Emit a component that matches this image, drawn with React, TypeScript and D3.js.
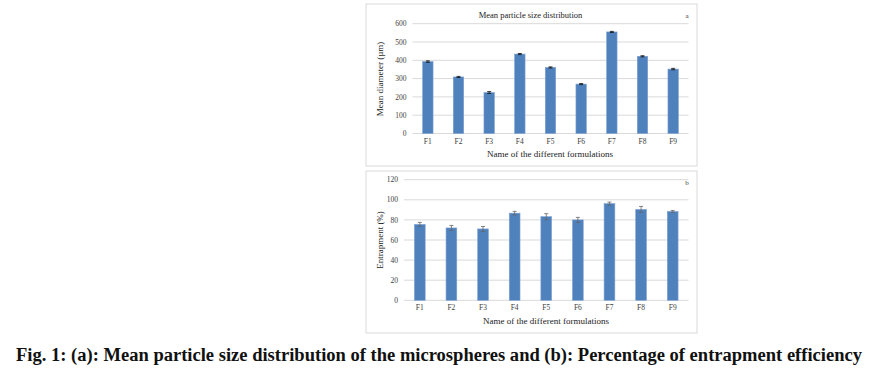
import React from "react";
import * as d3 from "d3";

const categories = ["F1", "F2", "F3", "F4", "F5", "F6", "F7", "F8", "F9"];
const sizeValues = [393, 309, 224, 434, 361, 270, 555, 422, 352];
const sizeErrors = [4, 3, 5, 3, 3, 3, 3, 3, 4];
const sizeTicks = [0, 100, 200, 300, 400, 500, 600];
const entrapValues = [75.5, 72, 71, 86.7, 83.2, 80, 96.2, 90.4, 88.4];
const entrapErrors = [2, 2.5, 2.5, 1.8, 3, 2.5, 1.5, 3, 1];
const entrapTicks = [0, 20, 40, 60, 80, 100, 120];

const FONT = "'Liberation Serif', 'Times New Roman', serif";
const BAR = "#4f81bd";
const GRID = "#d9d9d9";
const TXT = "#404040";

type PanelProps = {
  box: [number, number, number, number];
  plotX: [number, number];
  plotY: [number, number];
  values: number[];
  errors: number[];
  ticks: number[];
  maxY: number;
  title?: string;
  tag: string;
  yLabel: string;
  yLabelX: number;
  yLabelY: number;
  xLabelY: number;
  xLabelX: number;
  errColor: string;
};

function Panel(p: PanelProps) {
  const x = d3.scaleBand<string>().domain(categories).range(p.plotX).paddingInner(0.66).paddingOuter(0.33);
  const y = d3.scaleLinear().domain([0, p.maxY]).range([p.plotY[1], p.plotY[0]]);
  const [bx, by, bw, bh] = p.box;
  return (
    <g>
      <rect x={bx} y={by} width={bw} height={bh} fill="#fff" stroke="#d9d9d9" strokeWidth={1} />
      {p.ticks.map((t) => (
        <g key={t}>
          <line x1={p.plotX[0]} x2={p.plotX[1]} y1={y(t)} y2={y(t)} stroke={GRID} strokeWidth={1} />
          <text x={p.plotX[0] - 6} y={y(t)} dy="0.35em" textAnchor="end" fontSize={7.5} fill={TXT} fontFamily={FONT}>
            {t}
          </text>
        </g>
      ))}
      {categories.map((c, i) => {
        const bxp = x(c)!;
        const bwid = x.bandwidth();
        const cx = bxp + bwid / 2;
        const v = p.values[i];
        const e = p.errors[i];
        return (
          <g key={c}>
            <rect x={bxp} y={y(v)} width={bwid} height={y(0) - y(v)} fill={BAR} stroke="#7ea1d3" strokeWidth={0.6} />
            <line x1={cx} x2={cx} y1={y(v + e)} y2={y(v - e)} stroke={p.errColor} strokeWidth={0.8} />
            <line x1={cx - 2} x2={cx + 2} y1={y(v + e)} y2={y(v + e)} stroke={p.errColor} strokeWidth={0.8} />
            <line x1={cx - 2} x2={cx + 2} y1={y(v - e)} y2={y(v - e)} stroke={p.errColor} strokeWidth={0.8} />
            <text x={cx} y={y(0) + 10} textAnchor="middle" fontSize={7.5} fill={TXT} fontFamily={FONT}>
              {c}
            </text>
          </g>
        );
      })}
      {p.title && (
        <text x={(p.plotX[0] + p.plotX[1]) / 2 - 20} y={by + 14} textAnchor="middle" fontSize={8.5} fill="#222" fontFamily={FONT}>
          {p.title}
        </text>
      )}
      <text x={bx + bw - 10} y={by + 14} textAnchor="middle" fontSize={7} fill={TXT} fontFamily={FONT}>
        {p.tag}
      </text>
      <text
        transform={`translate(${p.yLabelX},${p.yLabelY}) rotate(-90)`}
        textAnchor="middle"
        fontSize={9}
        fill="#222"
        fontFamily={FONT}
      >
        {p.yLabel}
      </text>
      <text x={p.xLabelX} y={p.xLabelY} textAnchor="middle" fontSize={9} fill="#222" fontFamily={FONT}>
        Name of the different formulations
      </text>
    </g>
  );
}

export default function App() {
  return (
    <svg width={872} height={375} style={{ position: "absolute", left: 0, top: 0 }}>
      <rect width={872} height={375} fill="#fff" />
      <Panel
        box={[366, 4, 331, 162]}
        plotX={[412.5, 688.5]}
        plotY={[23.7, 133.5]}
        values={sizeValues}
        errors={sizeErrors}
        ticks={sizeTicks}
        maxY={600}
        title="Mean particle size distribution"
        tag="a"
        yLabel="Mean diameter (µm)"
        yLabelX={383}
        yLabelY={79}
        xLabelX={550}
        xLabelY={157}
        errColor="#111"
      />
      <Panel
        box={[366, 171, 331, 162]}
        plotX={[404, 688.5]}
        plotY={[179.7, 300.3]}
        values={entrapValues}
        errors={entrapErrors}
        ticks={entrapTicks}
        maxY={120}
        tag="b"
        yLabel="Entrapment (%)"
        yLabelX={383}
        yLabelY={240}
        xLabelX={546}
        xLabelY={324}
        errColor="#666"
      />
      <text
        x={16}
        y={361}
        fontSize={18}
        fontWeight="bold"
        fill="#111"
        fontFamily={FONT}
        textLength={846}
        lengthAdjust="spacingAndGlyphs"
      >
        Fig. 1: (a): Mean particle size distribution of the microspheres and (b): Percentage of entrapment efficiency
      </text>
    </svg>
  );
}
